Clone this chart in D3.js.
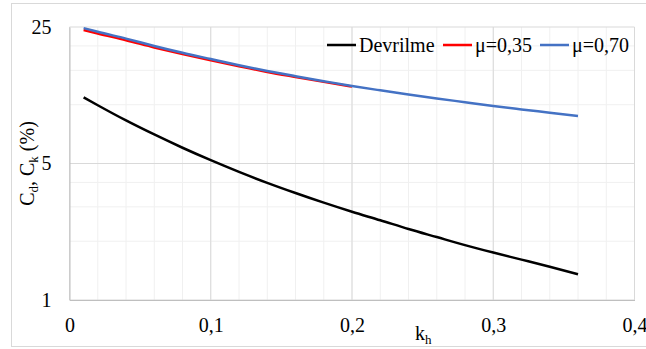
<!DOCTYPE html>
<html><head><meta charset="utf-8">
<script src="https://cdn.jsdelivr.net/npm/d3@7"></script>
</head><body style="margin:0;background:#fff"><svg id="c" width="646" height="349" style="display:block"></svg>
<script>
const kh = [0.01,0.02,0.04,0.06,0.08,0.10,0.12,0.14,0.16,0.18,0.20,0.22,0.24,0.26,0.28,0.30,0.32,0.34,0.36];
const devrilme = [10.91,9.94,8.31,7.04,6.02,5.2,4.53,3.98,3.53,3.15,2.83,2.56,2.31,2.10,1.91,1.75,1.61,1.48,1.356];
const mu035 = [24.13,23.14,21.39,19.64,18.15,16.88,15.73,14.72,13.87,13.09,12.39];
const mu070 = [24.68,23.63,21.8,19.99,18.44,17.13,15.93,14.89,14.0,13.2,12.47,11.85,11.29,10.77,10.3,9.85,9.46,9.1,8.75];
const xTicks = [0,0.1,0.2,0.3,0.4];
const xTickLabels = ["0","0,1","0,2","0,3","0,4"];
const yTicks = [1,5,25];
const yMinor = [2,3,4,10,15,20];
const xMinor = d3.range(0,0.4001,0.02);
const seriesNames = ["Devrilme","μ=0,35","μ=0,70"];
const colors = ["#000000","#ff0000","#4472c4"];

const FONT = "Liberation Serif";
const setFont = (sel,size)=>sel.attr("font-family",FONT).attr("font-size",size).style("font-family",FONT,"important").style("font-size",size+"px");
const svg = d3.select("#c");
const L=69.5,R=634.5,T=27,B=300;
const x = d3.scaleLinear().domain([0,0.4]).range([L,R]);
const y = d3.scaleLog().base(5).domain([1,25]).range([B,T]);

svg.append("rect").attr("x",11.5).attr("y",3.5).attr("width",640).attr("height",343).attr("fill","#fff").attr("stroke","#d9d9d9");

const g = svg.append("g");
g.selectAll(".vx").data(xMinor).join("line").attr("x1",d=>x(d)).attr("x2",d=>x(d)).attr("y1",T).attr("y2",B).attr("stroke","#f0f0f0");
g.selectAll(".hy").data(yMinor).join("line").attr("x1",L).attr("x2",R).attr("y1",d=>y(d)).attr("y2",d=>y(d)).attr("stroke","#f0f0f0");
g.selectAll(".vX").data(xTicks).join("line").attr("x1",d=>x(d)).attr("x2",d=>x(d)).attr("y1",T).attr("y2",B).attr("stroke","#d9d9d9");
g.selectAll(".hY").data(yTicks).join("line").attr("x1",L).attr("x2",R).attr("y1",d=>y(d)).attr("y2",d=>y(d)).attr("stroke","#d9d9d9");

const xa = svg.append("g").attr("transform",`translate(0,${B})`).call(d3.axisBottom(x).tickValues(xTicks).tickFormat((d,i)=>xTickLabels[i]).tickSize(0).tickPadding(18));
setFont(xa,20);
xa.select(".domain").attr("stroke","#bfbfbf");
setFont(xa.selectAll("text"),20).attr("fill","#000");
const ya = svg.append("g").attr("transform",`translate(${L},0)`).call(d3.axisLeft(y).tickValues(yTicks).tickFormat(d3.format("d")).tickSize(0).tickPadding(18));
setFont(ya,20);
ya.select(".domain").attr("stroke","#bfbfbf");
setFont(ya.selectAll("text"),20).attr("fill","#000");

const line = d3.line().curve(d3.curveMonotoneX).x(d=>x(d[0])).y(d=>y(d[1]));
const data = [devrilme, mu035, mu070].map(v=>v.map((val,i)=>[kh[i],val]));
svg.selectAll(".s").data(data).join("path").attr("fill","none").attr("stroke",(d,i)=>colors[i]).attr("stroke-width",2.5).attr("d",line);

const yt = setFont(svg.append("text"),20).attr("transform",`translate(34,${(T+B)/2}) rotate(-90)`).attr("text-anchor","middle");
yt.append("tspan").text("C");
yt.append("tspan").attr("font-size",13).style("font-size","13px").attr("dy",4).text("d");
yt.append("tspan").attr("dy",-4).text(", C");
yt.append("tspan").attr("font-size",13).style("font-size","13px").attr("dy",4).text("k");
yt.append("tspan").attr("dy",-4).text(" (%)");
const xt = setFont(svg.append("text"),20).attr("x",415).attr("y",340);
xt.append("tspan").text("k");
xt.append("tspan").attr("font-size",13).style("font-size","13px").attr("dy",4).text("h");

const legX = [327,443,540];
const lg = svg.append("g");
seriesNames.forEach((n,i)=>{
  lg.append("line").attr("x1",legX[i]).attr("x2",legX[i]+29).attr("y1",45).attr("y2",45).attr("stroke",colors[i]).attr("stroke-width",2.5);
  setFont(lg.append("text"),20).attr("x",legX[i]+32).attr("y",52).text(n);
});
</script></body></html>
